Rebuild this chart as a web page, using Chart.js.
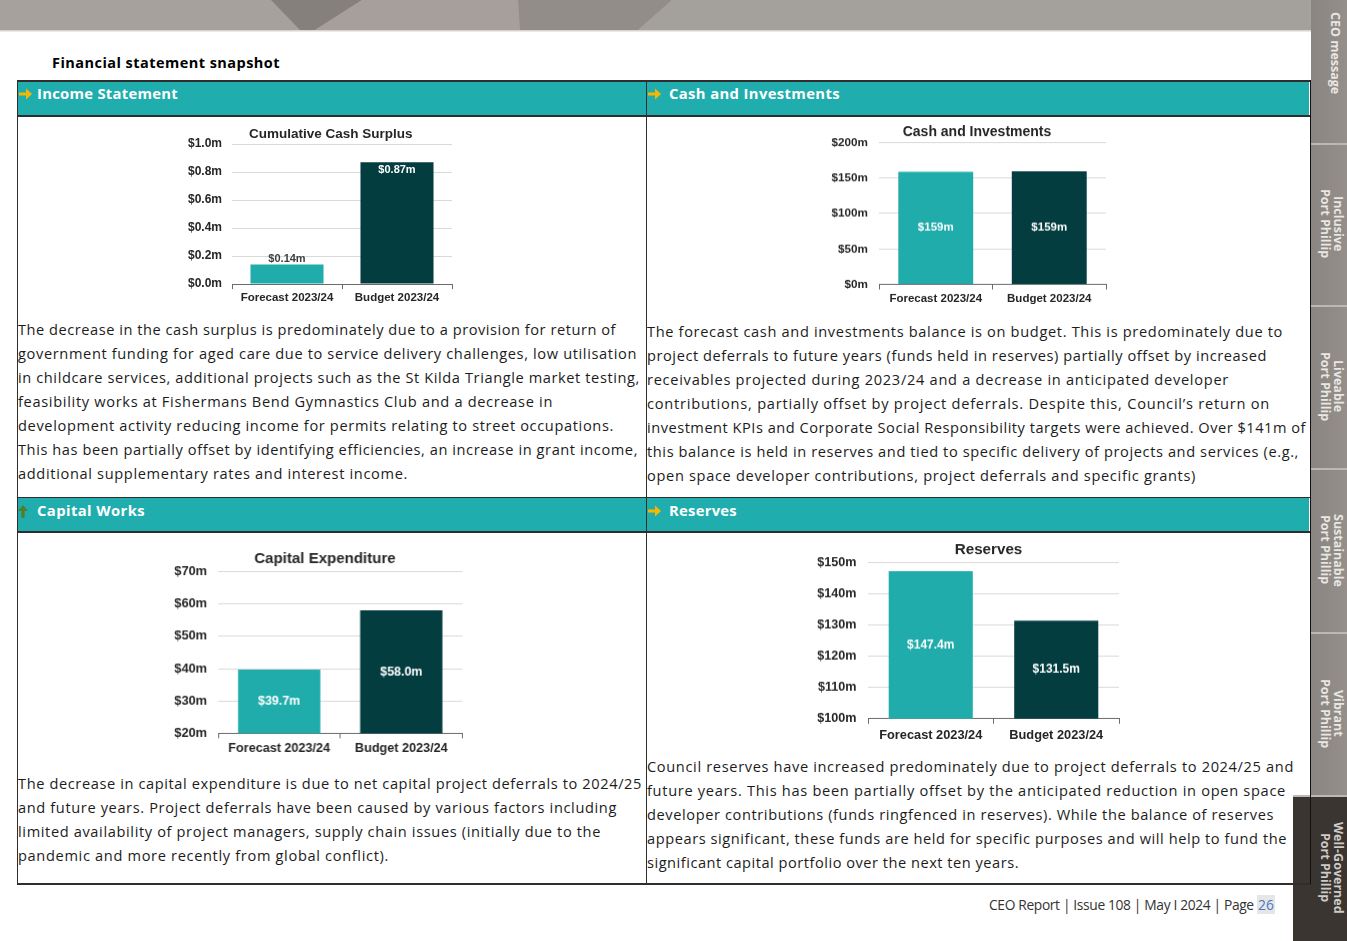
<!DOCTYPE html>
<html><head><meta charset="utf-8">
<script src="https://cdn.jsdelivr.net/npm/chart.js@4.4.1/dist/chart.umd.min.js"></script>
<style>
html,body{margin:0;padding:0;width:1347px;height:941px;overflow:hidden;background:#fff;font-family:"Open Sans",sans-serif;}
.abs{position:absolute;}
.para{position:absolute;font-size:14.6px;line-height:24px;color:#1c1c1c;white-space:nowrap;}
.para div{height:24px;}
.hdr{position:absolute;color:#fff;font-weight:700;font-size:14.8px;white-space:nowrap;line-height:20px;}
.tab{position:absolute;left:1311px;width:36px;background:linear-gradient(90deg,#8a8581,#958f8b);border-top:2px solid #bdb8b4;box-sizing:border-box;}
.vt{position:absolute;writing-mode:vertical-rl;color:#e9e6e3;font-weight:700;font-size:12.5px;line-height:13px;white-space:nowrap;text-align:center;}
.line{position:absolute;background:#2e2e2e;}
.cw{position:absolute;}
</style></head><body>

<svg class="abs" style="left:0;top:0" width="1347" height="32">
  <rect x="0" y="0" width="1347" height="30" fill="#a6a19d"/>
  <polygon points="271,0 362,0 315,30 300,30" fill="#85807c"/>
  <polygon points="362,0 518,0 520,30 315,30" fill="#a79f9c"/>
  <polygon points="518,0 672,0 638,30 520,30" fill="#928d89"/>
  <polygon points="672,0 1311,0 1311,30 638,30" fill="#a4a09c"/>
  <rect x="0" y="30" width="1311" height="1.5" fill="#d6d3d1"/>
</svg>

<!-- sidebar tabs -->
<div class="tab" style="top:0;height:143px;border-top:none"></div>
<div class="tab" style="top:143px;height:162px"></div>
<div class="tab" style="top:305px;height:163px"></div>
<div class="tab" style="top:468px;height:164px"></div>
<div class="tab" style="top:632px;height:163px"></div>
<div class="abs" style="left:1293px;top:795px;width:54px;height:146px;background:#3a3531;border-top:2px solid #bdb8b4;box-sizing:border-box"></div>
<div class="vt" style="left:1329px;top:12px;width:13px;height:100px;text-align:left">CEO message</div>
<div class="vt" style="left:1319px;top:143px;width:26px;height:162px">Inclusive<br>Port Phillip</div>
<div class="vt" style="left:1319px;top:305px;width:26px;height:163px">Liveable<br>Port Phillip</div>
<div class="vt" style="left:1319px;top:468px;width:26px;height:164px">Sustainable<br>Port Phillip</div>
<div class="vt" style="left:1319px;top:632px;width:26px;height:163px">Vibrant<br>Port Phillip</div>
<div class="vt" style="left:1319px;top:795px;width:26px;height:146px;color:#cfcac6">Well-Governed<br>Port Phillip</div>

<!-- page title -->
<div class="abs" style="left:52px;top:53px;font-weight:700;font-size:14.5px;line-height:20px;color:#000;white-space:nowrap"><span class="fit" data-r="280">Financial statement snapshot</span></div>

<!-- table -->
<div class="abs" style="left:18px;top:81px;width:1291px;height:35px;background:#20adad"></div>
<div class="abs" style="left:18px;top:498px;width:1291px;height:34px;background:#20adad"></div>
<div class="line" style="left:17px;top:80px;width:1294px;height:1.5px"></div>
<div class="line" style="left:17px;top:115px;width:1294px;height:2px"></div>
<div class="line" style="left:17px;top:496.5px;width:1294px;height:1.5px"></div>
<div class="line" style="left:17px;top:531px;width:1294px;height:2px"></div>
<div class="line" style="left:17px;top:883px;width:1294px;height:1.5px"></div>
<div class="line" style="left:16.5px;top:80px;width:1.5px;height:804px"></div>
<div class="line" style="left:645.5px;top:80px;width:1.5px;height:804px"></div>
<div class="line" style="left:1309.5px;top:80px;width:1.5px;height:804px;background:#111"></div>

<svg class="abs" style="left:18px;top:86px" width="16" height="16"><path d="M1 6.5 H8 V2.5 L14 8 L8 13.5 V9.5 H1 Z" fill="#f5b700"/></svg>
<svg class="abs" style="left:647px;top:86px" width="16" height="16"><path d="M1 6.5 H8 V2.5 L14 8 L8 13.5 V9.5 H1 Z" fill="#f5b700"/></svg>
<svg class="abs" style="left:647px;top:503px" width="16" height="16"><path d="M1 6.5 H8 V2.5 L14 8 L8 13.5 V9.5 H1 Z" fill="#f5b700"/></svg>
<svg class="abs" style="left:17px;top:503px" width="14" height="16"><path d="M6 2 L11 8 H7.6 V15 H4.4 V8 H1 Z" fill="#4f7f2c"/></svg>

<div class="hdr" style="left:37px;top:83px"><span class="fit" data-r="178">Income Statement</span></div>
<div class="hdr" style="left:669px;top:83px"><span class="fit" data-r="840">Cash and Investments</span></div>
<div class="hdr" style="left:37px;top:500px"><span class="fit" data-r="145">Capital Works</span></div>
<div class="hdr" style="left:669px;top:500px"><span class="fit" data-r="737">Reserves</span></div>

<div class="para" style="left:18px;top:317px">
<div><span class="fit" data-r="616">The decrease in the cash surplus is predominately due to a provision for return of</span></div>
<div><span class="fit" data-r="637">government funding for aged care due to service delivery challenges, low utilisation</span></div>
<div><span class="fit" data-r="640">in childcare services, additional projects such as the St Kilda Triangle market testing,</span></div>
<div><span class="fit" data-r="553">feasibility works at Fishermans Bend Gymnastics Club and a decrease in</span></div>
<div><span class="fit" data-r="614">development activity reducing income for permits relating to street occupations.</span></div>
<div><span class="fit" data-r="638">This has been partially offset by identifying efficiencies, an increase in grant income,</span></div>
<div><span class="fit" data-r="408">additional supplementary rates and interest income.</span></div>
</div>

<div class="para" style="left:647px;top:319px">
<div><span class="fit" data-r="1283">The forecast cash and investments balance is on budget. This is predominately due to</span></div>
<div><span class="fit" data-r="1267">project deferrals to future years (funds held in reserves) partially offset by increased</span></div>
<div><span class="fit" data-r="1229">receivables projected during 2023/24 and a decrease in anticipated developer</span></div>
<div><span class="fit" data-r="1270">contributions, partially offset by project deferrals. Despite this, Council’s return on</span></div>
<div><span class="fit" data-r="1306">investment KPIs and Corporate Social Responsibility targets were achieved. Over $141m of</span></div>
<div><span class="fit" data-r="1299">this balance is held in reserves and tied to specific delivery of projects and services (e.g.,</span></div>
<div><span class="fit" data-r="1196">open space developer contributions, project deferrals and specific grants)</span></div>
</div>

<div class="para" style="left:18px;top:771px">
<div><span class="fit" data-r="642">The decrease in capital expenditure is due to net capital project deferrals to 2024/25</span></div>
<div><span class="fit" data-r="617">and future years. Project deferrals have been caused by various factors including</span></div>
<div><span class="fit" data-r="601">limited availability of project managers, supply chain issues (initially due to the</span></div>
<div><span class="fit" data-r="389">pandemic and more recently from global conflict).</span></div>
</div>

<div class="para" style="left:647px;top:754px">
<div><span class="fit" data-r="1294">Council reserves have increased predominately due to project deferrals to 2024/25 and</span></div>
<div><span class="fit" data-r="1286">future years. This has been partially offset by the anticipated reduction in open space</span></div>
<div><span class="fit" data-r="1274">developer contributions (funds ringfenced in reserves). While the balance of reserves</span></div>
<div><span class="fit" data-r="1287">appears significant, these funds are held for specific purposes and will help to fund the</span></div>
<div><span class="fit" data-r="1019">significant capital portfolio over the next ten years.</span></div>
</div>

<div class="abs" style="left:989px;top:895px;font-size:13.8px;line-height:20px;color:#333;white-space:nowrap"><span class="fit" data-r="1257">CEO Report | Issue 108 | May I 2024 | Page </span><span style="color:#4a78c2;background:#e6e6e6;padding:0 1px">26</span></div>

<div id="charts"></div>

<script>
// ---- data ----
const categories = ['Forecast 2023/24', 'Budget 2023/24'];
const cashSurplus = [0.14, 0.87];        // $m
const cashInvestments = [158.6, 159.3];  // $m
const capitalExpenditure = [39.7, 58.0]; // $m
const reserves = [147.4, 131.5];         // $m
const barColors = ['#20acab', '#043d40'];

// fit text lines
document.querySelectorAll('.fit').forEach(el => {
  const r = +el.dataset.r;
  const rect = el.getBoundingClientRect();
  const n = el.textContent.length;
  el.style.letterSpacing = ((r - rect.right) / n) + 'px';
});

const FONT = '"Liberation Sans", Arial, sans-serif';

const valueLabels = {
  id: 'valueLabels',
  afterDatasetsDraw(chart, args, opts) {
    const ctx = chart.ctx;
    const meta = chart.getDatasetMeta(0);
    const ds = chart.data.datasets[0];
    meta.data.forEach((bar, i) => {
      const txt = opts.format(ds.data[i]);
      const base = Math.min(bar.base, chart.chartArea.bottom);
      const h = base - bar.y;
      ctx.save();
      ctx.font = 'bold ' + opts.size + 'px ' + FONT;
      ctx.textAlign = 'center';
      ctx.textBaseline = 'middle';
      let y, color = '#ffffff';
      if (opts.mode === 'end') {
        if (h < opts.size * 2.5) { y = bar.y - 6; color = '#404040'; }
        else { y = bar.y + 8; }
      } else {
        y = (bar.y + base) / 2;
      }
      ctx.fillStyle = color;
      ctx.fillText(txt, bar.x, y);
      ctx.restore();
    });
  }
};

function makeChart(g, values, min, max, step, tickFmt, labelFmt, title) {
  const th = g.ts * 1.2;
  const top = g.tcy - th / 2;
  const left = g.L - g.yaw;
  const right = 2 * g.tcx - left;
  const y2w = right - g.R;
  const xah = 24;
  const height = g.B + xah - top;
  const div = document.createElement('div');
  div.className = 'cw';
  div.style.left = left + 'px';
  div.style.top = top + 'px';
  div.style.width = (right - left) + 'px';
  div.style.height = height + 'px';
  const cv = document.createElement('canvas');
  div.appendChild(cv);
  document.getElementById('charts').appendChild(div);
  new Chart(cv, {
    type: 'bar',
    data: {
      labels: categories,
      datasets: [{
        data: values,
        backgroundColor: barColors,
        borderWidth: 0,
        categoryPercentage: 1,
        barPercentage: g.bp
      }]
    },
    options: {
      responsive: true,
      maintainAspectRatio: false,
      animation: false,
      layout: { padding: 0 },
      plugins: {
        legend: { display: false },
        tooltip: { enabled: false },
        title: {
          display: true, text: title, color: '#262626',
          font: { family: FONT, size: g.ts, weight: 'bold' },
          padding: { top: 0, bottom: g.T - top - th }
        },
        valueLabels: { format: labelFmt, size: g.ls, mode: g.mode }
      },
      scales: {
        x: {
          grid: { display: true, drawOnChartArea: false, drawTicks: true, tickLength: 5, color: '#6b6b6b', offset: true },
          border: { display: true, color: '#6b6b6b', width: 1 },
          ticks: { color: '#262626', padding: g.xp, font: { family: FONT, size: g.xts, weight: 'bold' }, maxRotation: 0 },
          afterFit: s => { s.height = xah; }
        },
        y: {
          min: min, max: max,
          grid: { color: '#d9d9d9', lineWidth: 1, drawTicks: false },
          border: { display: false },
          ticks: { stepSize: step, color: '#262626', padding: g.yp, font: { family: FONT, size: g.yts, weight: 'bold' }, callback: v => tickFmt(v) },
          afterFit: s => { s.width = g.yaw; }
        },
        y2: {
          position: 'right', display: true,
          grid: { display: false }, border: { display: false },
          ticks: { display: false },
          afterFit: s => { s.width = y2w; }
        }
      }
    },
    plugins: [valueLabels]
  });
}

makeChart({L:231.7,R:451.7,T:144.3,B:284.3,tcx:330.5,tcy:134.3,ts:13.5,yts:12,xts:11.5,yaw:50,yp:10,xp:2,bp:0.664,ls:11,mode:'end'},
  cashSurplus, 0, 1, 0.2, v => '$' + v.toFixed(1) + 'm', v => '$' + v.toFixed(2) + 'm', 'Cumulative Cash Surplus');
makeChart({L:879,R:1106,T:142.7,B:284,tcx:977,tcy:132.8,ts:14,yts:11.7,xts:11.5,yaw:55,yp:11,xp:2.4,bp:0.66,ls:11.5,mode:'center'},
  cashInvestments, 0, 200, 50, v => '$' + v + 'm', v => '$' + Math.round(v) + 'm', 'Cash and Investments');
makeChart({L:218.3,R:461.7,T:571.7,B:732.7,tcx:324.7,tcy:559.3,ts:15,yts:12.8,xts:12.6,yaw:60,yp:11,xp:2.7,bp:0.674,ls:12.4,mode:'center'},
  capitalExpenditure, 20, 70, 10, v => '$' + v + 'm', v => '$' + v.toFixed(1) + 'm', 'Capital Expenditure');
makeChart({L:868.3,R:1119.3,T:562.7,B:717.7,tcx:988.8,tcy:550,ts:15.2,yts:12.6,xts:12.8,yaw:62,yp:11.6,xp:3.7,bp:0.67,ls:12,mode:'center'},
  reserves, 100, 150, 10, v => '$' + v + 'm', v => '$' + v.toFixed(1) + 'm', 'Reserves');
</script>
</body></html>
